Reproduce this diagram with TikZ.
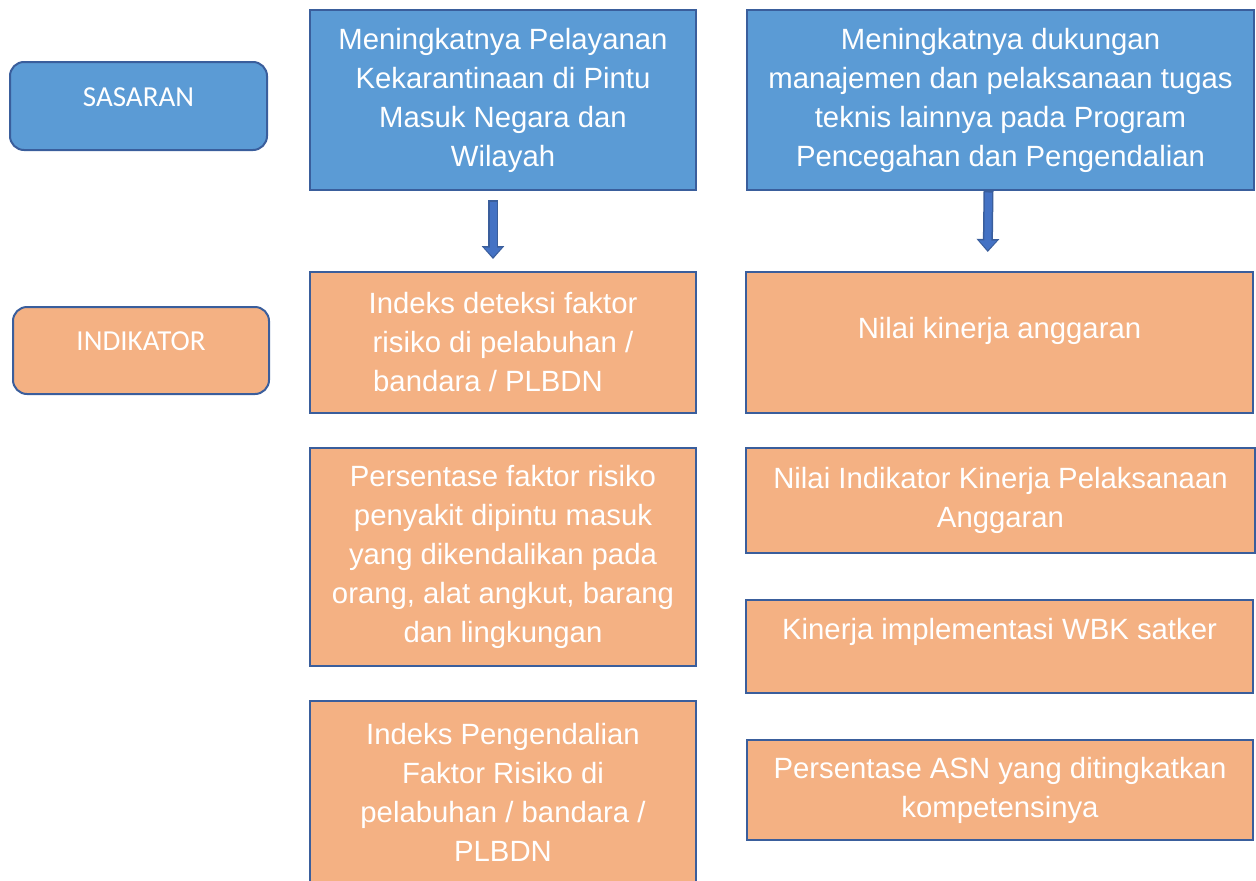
\documentclass[tikz,border=0pt]{standalone}
\usepackage{fontspec}
\setmainfont{Liberation Sans}
\newfontfamily\tagfont{Carlito}
\usepackage{tikz}
\usetikzlibrary{arrows.meta,positioning}
\definecolor{sasblue}{HTML}{5B9BD5}
\definecolor{indorange}{HTML}{F4B183}
\definecolor{edgeblue}{HTML}{3A5E9C}
\definecolor{arrowblue}{HTML}{4472C4}

\begin{document}
\begin{tikzpicture}[
  box/.style={draw=edgeblue, line width=2pt, inner sep=0pt, align=center, text=white,
    font=\fontsize{29.3}{39}\selectfont},
  blue/.style={box, fill=sasblue},
  orange/.style={box, fill=indorange},
  tag/.style={draw=edgeblue, line width=2pt, rounded corners=14pt, inner sep=0pt, text=white,
    text height=12pt, text depth=12pt, font=\tagfont\fontsize{29}{34}\selectfont},
  bigarrow/.style={line width=10pt, draw=edgeblue, -{Triangle[length=13pt,width=22pt]}},
  bigarrowfill/.style={line width=7pt, draw=arrowblue, -{Triangle[length=9.5pt,width=17pt]}}]
\useasboundingbox (0pt,0pt) rectangle (1256pt,-881pt);
% left column
\node[tag, fill=sasblue, minimum width=257pt, minimum height=88pt] (1) at (138.5pt,-106pt) {SASARAN};
\node[tag, fill=indorange, minimum width=256pt, minimum height=87pt] (2) at (141pt,-350.5pt) {INDIKATOR};
% sasaran
\node[blue, minimum width=386pt, minimum height=180pt] (3) at (503pt,-100pt)
  {Meningkatnya Pelayanan\\Kekarantinaan di Pintu\\Masuk Negara dan\\Wilayah};
\node[blue, minimum width=507pt, minimum height=180pt] (4) at (1000.5pt,-100pt)
  {Meningkatnya dukungan\\manajemen dan pelaksanaan tugas\\teknis lainnya pada Program\\Pencegahan dan Pengendalian};
% indikator
\node[orange, minimum width=386pt, minimum height=141pt] (5) at (503pt,-342.5pt)
  {Indeks deteksi faktor\\risiko di pelabuhan /\\bandara / PLBDN\hspace*{30pt}};
\node[orange, minimum width=386pt, minimum height=218pt] (6) at (503pt,-557pt)
  {Persentase faktor risiko\\penyakit dipintu masuk\\yang dikendalikan pada\\orang, alat angkut, barang\\dan lingkungan};
\node[orange, minimum width=386pt, minimum height=183pt] (7) at (503pt,-792.5pt)
  {Indeks Pengendalian\\Faktor Risiko di\\pelabuhan / bandara /\\PLBDN};
\node[orange, minimum width=507pt, minimum height=141pt, text depth=30pt] (8) at (999.5pt,-342.5pt)
  {Nilai kinerja anggaran};
\node[orange, minimum width=509pt, minimum height=105pt] (9) at (1000.5pt,-500.5pt)
  {Nilai Indikator Kinerja Pelaksanaan\\Anggaran};
\node[orange, minimum width=507pt, minimum height=93pt, text depth=35pt] (10) at (999.5pt,-646.5pt)
  {Kinerja implementasi WBK satker};
\node[orange, minimum width=506pt, minimum height=100pt] (11) at (1000pt,-790pt)
  {Persentase ASN yang ditingkatkan\\kompetensinya};
% arrows
\draw[bigarrow, shorten <=9pt, shorten >=12pt] ([xshift=-10pt]3.south) -- ([xshift=-10pt]5.north);
\draw[bigarrowfill, shorten <=10.5pt, shorten >=14pt] ([xshift=-10pt]3.south) -- ([xshift=-10pt]5.north);
\draw[bigarrow, shorten <=0pt, shorten >=19pt] ([xshift=-12pt]4.south) -- ([xshift=-12pt]8.north);
\draw[bigarrowfill, shorten <=1.5pt, shorten >=21pt] ([xshift=-12pt]4.south) -- ([xshift=-12pt]8.north);
\end{tikzpicture}
\end{document}
